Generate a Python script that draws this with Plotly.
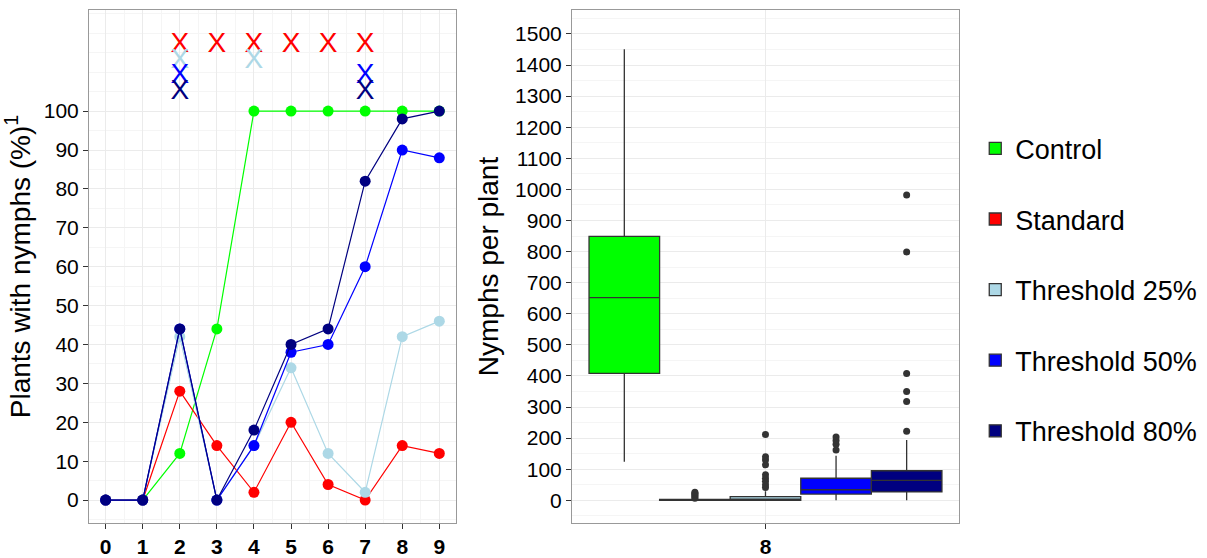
import plotly.graph_objects as go

# ---------------- data ----------------
weeks = [0, 1, 2, 3, 4, 5, 6, 7, 8, 9]
control_pct = [0, 0, 12, 44, 100, 100, 100, 100, 100, 100]
standard_pct = [0, 0, 28, 14, 2, 20, 4, 0, 14, 12]
thr25_pct = [0, 0, 42, 0, 14, 34, 12, 2, 42, 46]
thr50_pct = [0, 0, 44, 0, 14, 38, 40, 60, 90, 88]
thr80_pct = [0, 0, 44, 0, 18, 40, 44, 82, 98, 100]

# application (spray) events, shown as "X" above the curves
spray_standard_weeks = [2, 3, 4, 5, 6, 7]
spray_thr25_weeks = [2, 4]
spray_thr50_weeks = [2, 7]
spray_thr80_weeks = [2, 7]
spray_levels = [117, 113, 109, 104.8]

y_ticks_left = [0, 10, 20, 30, 40, 50, 60, 70, 80, 90, 100]
y_ticks_right = list(range(0, 1501, 100))

treatments = ["Control", "Standard", "Threshold 25%", "Threshold 50%", "Threshold 80%"]
colors = ["#00FF00", "#FF0000", "#ADD8E6", "#0000FF", "#000080"]

box_category = ["8"]
q1 = [408, 0, 0, 20, 27]
median = [652, 0, 4, 34, 64]
q3 = [849, 3, 12, 71, 95]
lowerfence = [124, 0, 0, 0, 0]
upperfence = [1451, 5, 29, 143, 194]
outliers = [
    [],
    [7, 11, 15, 19, 23, 26],
    [41, 50, 61, 71, 82, 114, 130, 140, 212],
    [162, 180, 192, 204],
    [222, 318, 350, 408, 799, 982],
]

FONT = "Liberation Sans, Arial, sans-serif"
GRID = "#EBEBEB"
MINOR = "#F5F5F5"
BORDER = "#999999"

fig = go.Figure()

# ---------------- left panel ----------------
series = [control_pct, standard_pct, thr25_pct, thr50_pct, thr80_pct]
for name, vals, col in zip(treatments, series, colors):
    fig.add_trace(go.Scatter(
        x=weeks, y=vals, mode="lines+markers", name=name,
        line=dict(color=col, width=1.2),
        marker=dict(color=col, size=11),
        showlegend=False, xaxis="x", yaxis="y"))

spray_sets = [spray_standard_weeks, spray_thr25_weeks, spray_thr50_weeks, spray_thr80_weeks]
for wk, lvl, col in zip(spray_sets, spray_levels, colors[1:]):
    fig.add_trace(go.Scatter(
        x=wk, y=[lvl] * len(wk), mode="text", text=["X"] * len(wk),
        textposition="middle center",
        textfont=dict(color=col, size=28, family=FONT),
        showlegend=False, hoverinfo="skip", xaxis="x", yaxis="y"))

# ---------------- right panel ----------------
for i, (name, col) in enumerate(zip(treatments, colors)):
    fig.add_trace(go.Box(
        x=box_category, q1=[q1[i]], median=[median[i]], q3=[q3[i]],
        lowerfence=[lowerfence[i]], upperfence=[upperfence[i]],
        name=name, legendgroup=name, offsetgroup=name,
        fillcolor=col, line=dict(color="#333333", width=1.3),
        whiskerwidth=0, boxpoints=False,
        xaxis="x2", yaxis="y2"))
    if outliers[i]:
        fig.add_trace(go.Box(
            x=box_category * len(outliers[i]), y=outliers[i],
            name=name + " outliers", offsetgroup=name,
            boxpoints="all", jitter=0, pointpos=0,
            fillcolor="rgba(0,0,0,0)",
            line=dict(color="rgba(0,0,0,0)", width=0),
            marker=dict(color="#333333", size=7),
            showlegend=False, hoveron="points",
            xaxis="x2", yaxis="y2"))

axis_common = dict(
    showline=True, mirror=True, linecolor=BORDER, linewidth=1,
    ticks="outside", ticklen=5, tickcolor="#333333", tickwidth=1,
    showgrid=True, gridcolor=GRID, gridwidth=1.3, zeroline=False,
)

fig.update_layout(
    width=1207, height=558,
    margin=dict(l=0, r=0, t=10, b=31),
    plot_bgcolor="white", paper_bgcolor="white",
    font=dict(family=FONT, color="black"),
    boxmode="group", boxgap=0.088, boxgroupgap=0,
    xaxis=dict(
        domain=[0.0737, 0.3778], range=[-0.45, 9.45],
        tickvals=weeks, ticktext=[str(w) for w in weeks],
        tickfont=dict(size=21, weight="bold", color="black"),
        minor=dict(dtick=0.5, tick0=0, showgrid=True, gridcolor=MINOR, gridwidth=0.6, ticks=""),
        anchor="y", **axis_common),
    yaxis=dict(
        domain=[0, 1], range=[-5.9, 126],
        tickvals=y_ticks_left,
        tickfont=dict(size=21, color="black"),
        minor=dict(dtick=5, tick0=0, showgrid=True, gridcolor=MINOR, gridwidth=0.6, ticks=""),
        title=dict(text="Plants with nymphs (%)<sup>1</sup>", font=dict(size=28), standoff=8),
        anchor="x", **axis_common),
    xaxis2=dict(
        domain=[0.4739, 0.7945], type="category", range=[-0.5, 0.5],
        tickfont=dict(size=21, weight="bold", color="black"),
        anchor="y2", **axis_common),
    yaxis2=dict(
        domain=[0, 1], range=[-73, 1577],
        tickvals=y_ticks_right,
        tickfont=dict(size=21, color="black"),
        minor=dict(dtick=50, tick0=0, showgrid=True, gridcolor=MINOR, gridwidth=0.6, ticks=""),
        title=dict(text="Nymphs per plant", font=dict(size=28), standoff=8),
        anchor="x2", **axis_common),
    legend=dict(
        x=0.808, y=0.4545, xanchor="left", yanchor="middle",
        font=dict(size=27, color="black"),
        tracegroupgap=32.5, bgcolor="rgba(0,0,0,0)"),
)

fig.write_html("out.html")
